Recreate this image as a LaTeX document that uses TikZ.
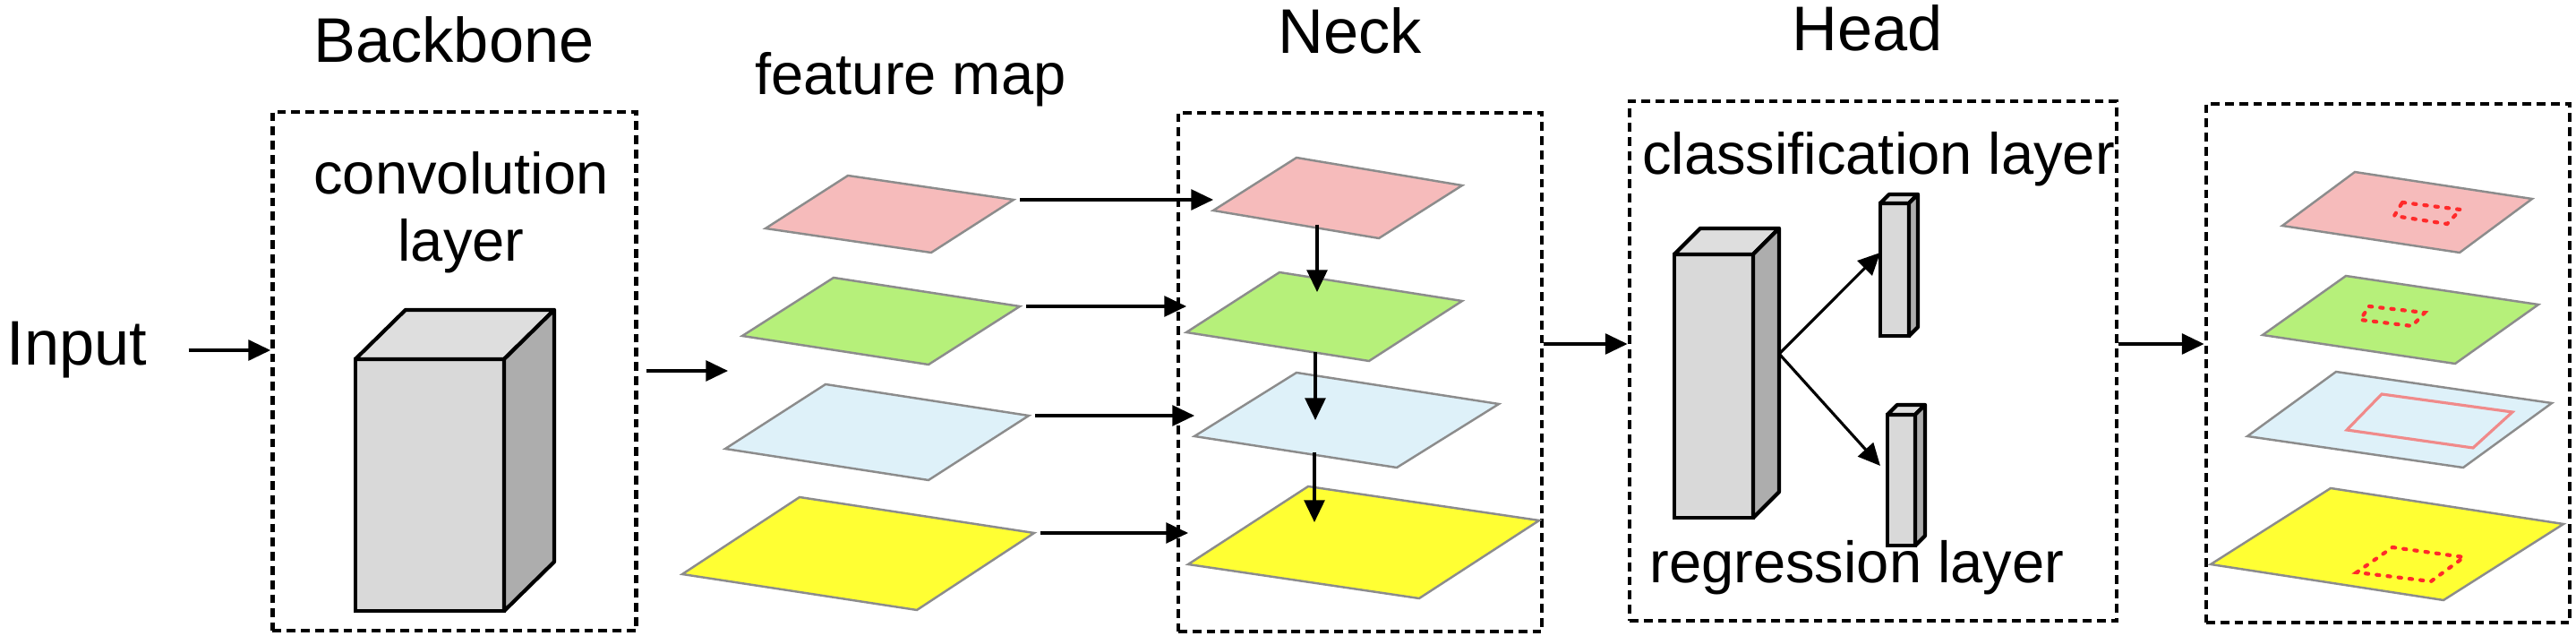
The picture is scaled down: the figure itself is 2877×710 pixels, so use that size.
\documentclass[tikz,border=0pt]{standalone}
\usepackage{fontspec}
\setmainfont{Liberation Sans}
\usepackage{tikz}
\usetikzlibrary{arrows.meta,positioning,calc}
\usepackage{xcolor}
\definecolor{MapPink}{HTML}{F6BBBB}
\definecolor{MapGreen}{HTML}{B6F07A}
\definecolor{MapBlue}{HTML}{DEF1F9}
\definecolor{MapYellow}{HTML}{FFFF33}
\definecolor{MapEdge}{HTML}{8C8C8C}
\definecolor{BlockFront}{HTML}{D9D9D9}
\definecolor{BlockTop}{HTML}{DEDEDE}
\definecolor{BlockSide}{HTML}{ADADAD}
\definecolor{BoxRed}{HTML}{FF2A2A}
\definecolor{BoxPink}{HTML}{F08A8A}

% one flat feature map: name, fill, left, top, right corner
\newcommand{\fmap}[5]{%
  \coordinate (#1-l) at (#3);
  \coordinate (#1-t) at (#4);
  \coordinate (#1-r) at (#5);
  \coordinate (#1-b) at ($(#1-l)+(#1-r)-(#1-t)$);
  \coordinate (#1-c) at ($(#1-l)!0.5!(#1-r)$);
  \draw[mapline, fill=#2] (#1-l) -- (#1-t) -- (#1-r) -- (#1-b) -- cycle;
}
% top and side faces of a block node: node, depth x, depth y
\newcommand{\blockfaces}[3]{%
  \draw[line width=1.2pt, line join=round, fill=BlockTop] (#1.north west) -- ++(#2,-#3)
    -- ($(#1.north east)+(#2,-#3)$) -- (#1.north east) -- cycle;
  \draw[line width=1.2pt, line join=round, fill=BlockSide] (#1.north east) -- ++(#2,-#3)
    -- ($(#1.south east)+(#2,-#3)$) -- (#1.south east) -- cycle;
}

\begin{document}
\begin{tikzpicture}[x=0.01cm, y=-0.01cm,
    stage/.style={draw, line width=1.3pt, dash pattern=on 2.8pt off 1.7pt,
                  minimum width=4.06cm, minimum height=5.79cm, inner sep=0},
    ttl/.style={font=\fontsize{20}{24}\selectfont, inner sep=0},
    lbl/.style={font=\fontsize{18.5}{21.5}\selectfont, inner sep=0, align=center},
    blk/.style={draw, line width=1.2pt, fill=BlockFront, inner sep=0, outer sep=0},
    mapline/.style={draw=MapEdge, line width=0.7pt},
    arr/.style={line width=0.9pt, -{Triangle[length=7pt, width=6.5pt]}},
    hit/.style={draw=BoxRed, line width=1.2pt, dash pattern=on 0.9pt off 2.6pt, line cap=round}
  ]
    \useasboundingbox (0,0) rectangle (2877,710);

    % titles and labels
    \node[ttl] (in)  at (86,391)   {Input};
    \node[ttl] (bbt) at (507,44)   {Backbone};
    \node[ttl] (nkt) at (1508,34)  {Neck};
    \node[ttl] (hdt) at (2086,31)  {Head};
    \node[lbl] (fmt) at (1017,89)  {feature map};
    \node[lbl] (cvt) at (515,237)  {convolution\\layer};
    \node[lbl] (clt) at (2098,178) {classification layer};
    \node[lbl] (rgt) at (2074,634) {regression layer};

    % dashed stages
    \node[stage] (bb)  at (507.5,414.5) {};
    \node[stage] (nk)  at (1519,415.5)  {};
    \node[stage, minimum width=5.44cm, minimum height=5.8cm] (hd) at (2092,403) {};
    \node[stage] (out) at (2667,405.5)  {};

    % blocks
    \node[blk, minimum width=1.66cm, minimum height=2.81cm] (cv) at (480,541.5) {};
    \blockfaces{cv}{56}{55}
    \node[blk, minimum width=0.88cm, minimum height=2.94cm] (hb) at (1914,431) {};
    \blockfaces{hb}{29}{29}
    \node[blk, minimum width=0.32cm, minimum height=1.48cm] (cb) at (2116,301) {};
    \blockfaces{cb}{10}{10}
    \node[blk, minimum width=0.31cm, minimum height=1.46cm] (rb) at (2123.5,536) {};
    \blockfaces{rb}{11}{11}

    % feature maps
    \fmap{fp}{MapPink}{855,255}{947,196}{1132,223}
    \fmap{fg}{MapGreen}{829,375}{931,310}{1139,342}
    \fmap{fb}{MapBlue}{810,501}{922,429}{1149,464}
    \fmap{fy}{MapYellow}{762,641}{893,555}{1155,595}
    % neck maps
    \fmap{np}{MapPink}{1355,235}{1448,176}{1633,207}
    \fmap{ng}{MapGreen}{1325,371}{1429,304}{1633,336}
    \fmap{nb}{MapBlue}{1334,487}{1448,416}{1674,451}
    \fmap{ny}{MapYellow}{1327,630}{1461,543}{1719,581}
    % output maps
    \fmap{op}{MapPink}{2549,252}{2630,192}{2828,222}
    \fmap{og}{MapGreen}{2527,374}{2620,308}{2835,340}
    \fmap{ob}{MapBlue}{2510,487}{2609,415}{2850,450}
    \fmap{oy}{MapYellow}{2469,630}{2603,545}{2863,585}

    % detections
    \draw[hit] (2683,226) -- (2748,234) -- (2733,250) -- (2674,241) -- cycle;
    \draw[hit] (2646,342) -- (2708,349) -- (2694,364) -- (2636,357) -- cycle;
    \draw[draw=BoxPink, line width=0.9pt] (2660,440) -- (2806,460) -- (2762,500) -- (2621,480) -- cycle;
    \draw[hit] (2672,611) -- (2752,622) -- (2715,649) -- (2632,639) -- cycle;

    % connectors
    \draw[arr, shorten <=13pt] (in) -- (in -| bb.west);
    \coordinate (fm) at (813,414);
    \draw[arr, shorten <=2.5pt] (bb.east |- fm) -- (fm);
    \foreach \a/\b in {fp/np, fg/ng, fb/nb, fy/ny}
      \draw[arr, shorten <=2pt] (\a-r) -- (\a-r -| \b-l);
    \path (1471,251) coordinate (d1) (1471,326) coordinate (e1)
          (1469,393) coordinate (d2) (1469,469) coordinate (e2)
          (1468,505) coordinate (d3) (1468,583) coordinate (e3);
    \foreach \i in {1,2,3}
      \draw[arr] (d\i) -- (e\i);
    \coordinate (hd-in) at ($(hd.west)+(0,-19)$);
    \draw[arr] (nk.east |- hd-in) -- (hd-in);
    \draw[arr] (hd.east |- hd-in) -- (out.west |- hd-in);
    \coordinate (hb-o) at ($(hb.east)+(29,-36)$);
    \draw[arr] (hb-o) -- ($(cb.west)+(0,-19)$);
    \draw[arr] (hb-o) -- ($(rb.west)+(-8,-16)$);
  \end{tikzpicture}
\end{document}
